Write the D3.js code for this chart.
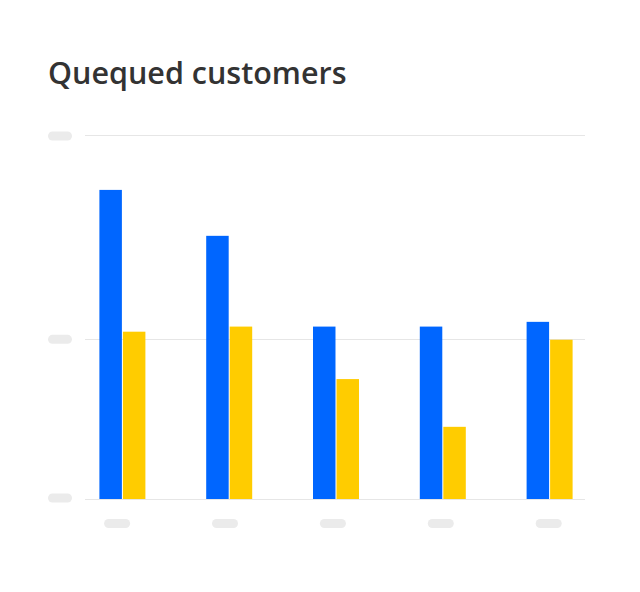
<!DOCTYPE html>
<html><head><meta charset="utf-8">
<script src="https://cdn.jsdelivr.net/npm/d3@7"></script>
<style>html,body{margin:0;padding:0;background:#fff;}svg{display:block;}</style>
</head><body>
<script>
const title = "Quequed customers";
const categories = ["A", "B", "C", "D", "E"];
const seriesNames = ["Blue", "Yellow"];
const blueValues = [84.8, 72.2, 47.3, 47.3, 48.6];
const yellowValues = [45.9, 47.3, 32.9, 19.8, 43.7];
const yTickValues = [0, 43.8, 100];
const colors = ["#0066ff", "#ffcc00"];

const W = 640, H = 592;
const svg = d3.select("body").append("svg").attr("width", W).attr("height", H);

svg.append("text").attr("x", 48).attr("y", 84)
  .attr("font-family", "'Open Sans', sans-serif").attr("font-weight", 600)
  .attr("font-size", 30.5).attr("fill", "#333").text(title);

const y = d3.scaleLinear().domain([0, 100]).range([499, 134.5]);
const xLabel = d3.scaleBand().domain(categories).range([63.15, 602.65]).padding(0);
const xBar = d3.scaleBand().domain(categories).range([69, 603]).padding(0);
const xInner = d3.scaleBand().domain(seriesNames).range([-23, 23]).paddingInner(2/46);

// gridlines
svg.append("g").selectAll("line").data(yTickValues).join("line")
  .attr("x1", 85).attr("x2", 585)
  .attr("y1", d => Math.round(y(d)) + 0.5).attr("y2", d => Math.round(y(d)) + 0.5)
  .attr("stroke", "#e6e6e6").attr("stroke-width", 1.2);

// y tick pills
svg.append("g").selectAll("rect").data(yTickValues).join("rect")
  .attr("x", 48).attr("width", 24).attr("height", 9).attr("rx", 4.5)
  .attr("y", d => y(d) - 4.5 + (d === 100 ? 1.5 : 0) - (d === 0 ? 1 : 0))
  .attr("fill", "#ebebeb");

// x label pills
svg.append("g").selectAll("rect").data(categories).join("rect")
  .attr("x", d => xLabel(d) + xLabel.bandwidth() / 2 - 13).attr("y", 519)
  .attr("width", 26).attr("height", 9).attr("rx", 4.5).attr("fill", "#ebebeb");

// bars
const rows = categories.map((c, i) => ({c, vals: [blueValues[i], yellowValues[i]]}));
const g = svg.append("g").selectAll("g").data(rows).join("g")
  .attr("transform", d => `translate(${xBar(d.c) + xBar.bandwidth() / 2},0)`);
g.selectAll("rect").data(d => d.vals.map((v, j) => ({s: seriesNames[j], v, j}))).join("rect")
  .attr("x", d => xInner(d.s)).attr("width", xInner.bandwidth())
  .attr("y", d => y(d.v)).attr("height", d => y(0) - y(d.v))
  .attr("fill", d => colors[d.j]);
</script>
</body></html>
